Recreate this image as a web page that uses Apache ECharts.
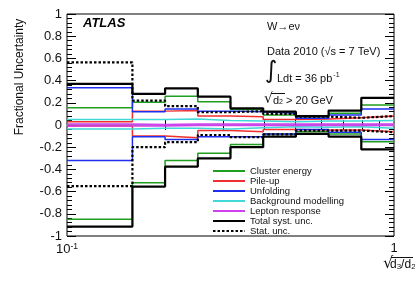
<!DOCTYPE html>
<html><head><meta charset="utf-8">
<script src="https://cdn.jsdelivr.net/npm/echarts@6/dist/echarts.min.js"></script>
<style>html,body{margin:0;padding:0;background:#fff}#c{width:415px;height:281px}</style>
</head><body><div id="c"></div>
<script>
// bin edges in sqrt(d3/d2)
const edges = [0.1, 0.1585, 0.1995, 0.2512, 0.3162, 0.3981, 0.5012, 0.631, 0.7943, 1.0];
const clusterUp   = [0.155, 0.205, 0.26, 0.21, 0.14, 0.09, 0.06, 0.105, 0.18];
const clusterDown = [-0.85, -0.52, -0.32, -0.255, -0.175, -0.08, -0.06, -0.08, -0.15];
const pileupUp    = [0.03, 0.125, 0.13, 0.08, 0.075, 0.05, 0.055, 0.065, 0.08];
const pileupDown  = [-0.01, -0.10, -0.115, -0.05, -0.06, -0.04, -0.045, -0.045, -0.06];
const unfoldUp    = [0.335, 0.12, 0.145, 0.125, 0.12, 0.105, 0.06, 0.09, 0.145];
const unfoldDown  = [-0.32, -0.105, -0.13, -0.105, -0.105, -0.08, -0.04, -0.065, -0.13];
const bkgUp       = [0.05, 0.05, 0.055, 0.04, 0.035, 0.03, 0.035, 0.035, 0.04];
const bkgDown     = [-0.035, -0.03, -0.03, -0.035, -0.025, -0.015, -0.02, -0.015, -0.03];
const lepUp       = [0.01, 0.005, 0.01, 0.01, 0.01, 0.01, 0.01, 0.01, 0.01];
const lepDown     = [-0.008, -0.008, -0.005, -0.005, -0.005, -0.005, -0.005, -0.005, -0.005];
const totalUp     = [0.37, 0.28, 0.33, 0.255, 0.15, 0.12, 0.08, 0.13, 0.245];
const totalDown   = [-0.915, -0.555, -0.375, -0.30, -0.20, -0.105, -0.08, -0.105, -0.22];
const statUp      = [0.565, 0.22, 0.17, 0.115, 0.125, 0.10, 0.075, 0.065, 0.08];
const statDown    = [-0.55, -0.20, -0.155, -0.09, -0.11, -0.085, -0.05, -0.05, -0.065];
const xMinorTicks = [0.2, 0.3, 0.4, 0.5, 0.6, 0.7, 0.8, 0.9];
const names = ['Cluster energy', 'Pile-up', 'Unfolding', 'Background modelling', 'Lepton response', 'Total syst. unc.', 'Stat. unc.'];

// histogram outline: each bin contributes its left and right edge at the bin value
function histData(vals) {
  const d = [];
  vals.forEach((v, i) => { d.push([edges[i], v]); d.push([edges[i + 1], v]); });
  return d;
}
const styles = [
  {c: '#1f9e1f', w: 1.5, t: 'solid', up: clusterUp, dn: clusterDown},
  {c: '#f03030', w: 1.5, t: 'solid', up: pileupUp, dn: pileupDown},
  {c: '#1f2ff0', w: 1.5, t: 'solid', up: unfoldUp, dn: unfoldDown},
  {c: '#40d8d8', w: 1.5, t: 'solid', up: bkgUp, dn: bkgDown},
  {c: '#d040f0', w: 1.5, t: 'solid', up: lepUp, dn: lepDown},
  {c: '#000000', w: 2.2, t: 'solid', up: totalUp, dn: totalDown},
  {c: '#000000', w: 2.2, t: [2.5, 2], up: statUp, dn: statDown}
];
const series = [];
styles.forEach((s, i) => {
  [s.up, s.dn].forEach(arr => series.push({
    name: names[i], type: 'line', symbol: 'none', showSymbol: false, animation: false,
    data: histData(arr), z: 2 + i,
    lineStyle: {color: s.c, width: s.w, type: s.t}, itemStyle: {color: s.c}
  }));
});

const chart = echarts.init(document.getElementById('c'), null, {renderer: 'canvas'});
const font = 'Liberation Sans';
chart.setOption({
  backgroundColor: '#fff',
  animation: false,
  textStyle: {fontFamily: font},
  grid: {left: 67, right: 21, top: 14, bottom: 45, show: true, borderColor: '#000', borderWidth: 1, backgroundColor: 'transparent'},
  legend: {
    data: names, orient: 'vertical', left: 207, top: 161, itemWidth: 32, itemHeight: 10, itemGap: 0,
    itemStyle: {opacity: 0},
    textStyle: {fontSize: 9.5, color: '#111', fontFamily: font, lineHeight: 10, padding: [0,0,0,0]},
    selectedMode: false
  },
  xAxis: [
    {type: 'log', logBase: 10, min: 0.1, max: 1, position: 'bottom',
     axisLine: {lineStyle: {color: '#999', width: 2}},
     splitLine: {show: false},
     axisTick: {show: true, inside: true, length: 5, customValues: xMinorTicks, lineStyle: {color: '#000'}},
     axisLabel: {customValues: [0.1, 1], margin: 6, color: '#111', fontSize: 13, fontFamily: font,
       formatter: v => (v < 0.5 ? '{b|10}{s|-1}' : '{b|1}'),
       rich: {b: {fontSize: 13, color: '#111', fontFamily: font}, s: {fontSize: 8.5, color: '#111', verticalAlign: 'top', padding: [0,0,6,0], fontFamily: font}}}},
    {type: 'log', logBase: 10, min: 0.1, max: 1, position: 'top',
     axisLine: {show: false}, splitLine: {show: false},
     axisTick: {show: true, inside: true, length: 5, customValues: xMinorTicks, lineStyle: {color: '#000'}},
     axisLabel: {show: false}}
  ],
  yAxis: [
    {type: 'value', min: -1, max: 1, interval: 0.2, position: 'left',
     axisLine: {show: false}, splitLine: {show: false},
     axisTick: {show: true, inside: true, length: 9, lineStyle: {color: '#000'}},
     minorTick: {show: true, splitNumber: 5, length: 5, lineStyle: {color: '#000'}},
     axisLabel: {margin: 5, color: '#111', fontSize: 13, fontFamily: font,
       formatter: v => String(Math.round(v * 10) / 10)}},
    {type: 'value', min: -1, max: 1, interval: 0.2, position: 'right',
     axisLine: {show: false}, splitLine: {show: false},
     axisTick: {show: true, inside: true, length: 9, lineStyle: {color: '#000'}},
     minorTick: {show: true, splitNumber: 5, length: 5, lineStyle: {color: '#000'}},
     axisLabel: {show: false}}
  ],
  series: series,
  graphic: [
    {type: 'text', left: 83, top: 17, style: {text: 'ATLAS', font: 'italic bold 13px "Liberation Sans"', fill: '#000'}},
    {type: 'text', x: 20, y: 77, rotation: Math.PI / 2, style: {text: 'Fractional Uncertainty', font: '12px "Liberation Sans"', fill: '#111', align: 'center', verticalAlign: 'middle'}},
    {type: 'text', left: 267, top: 21, style: {text: 'W\u2192e\u03bd', font: '11px "Liberation Sans"', fill: '#111'}},
    {type: 'text', left: 267, top: 46, style: {text: 'Data 2010 (\u221as = 7 TeV)', font: '11px "Liberation Sans"', fill: '#111'}},
    {type: 'text', left: 265, top: 60, style: {text: '\u222b', font: '24px "DejaVu Sans"', fill: '#111'}},
    {type: 'text', left: 277, top: 72, style: {text: 'Ldt = 36 pb{s|-1}', font: '11px "Liberation Sans"', fill: '#111',
      rich: {s: {fontSize: 7, verticalAlign: 'top', padding: [0,0,6,1]}}}},
    {type: 'text', left: 264, top: 92, style: {text: '\u221a', font: '14px "DejaVu Sans"', fill: '#111'}},
    {type: 'line', shape: {x1: 271, y1: 93.5, x2: 285, y2: 93.5}, style: {stroke: '#111', lineWidth: 1}},
    {type: 'text', left: 273, top: 95, style: {text: 'd{s|2} > 20 GeV', font: '11px "Liberation Sans"', fill: '#111',
      rich: {s: {fontSize: 7, verticalAlign: 'bottom', padding: [4,0,0,0]}}}},
    {type: 'text', left: 383, top: 256, style: {text: '\u221a', font: '16px "DejaVu Sans"', fill: '#111'}},
    {type: 'line', shape: {x1: 391, y1: 257.5, x2: 413, y2: 257.5}, style: {stroke: '#111', lineWidth: 1}},
    {type: 'text', left: 390, top: 259, style: {text: 'd{s|3}/d{s|2}', font: '12px "Liberation Sans"', fill: '#111',
      rich: {s: {fontSize: 8, verticalAlign: 'bottom', padding: [4,0,0,0]}}}}
  ]
});
</script></body></html>
